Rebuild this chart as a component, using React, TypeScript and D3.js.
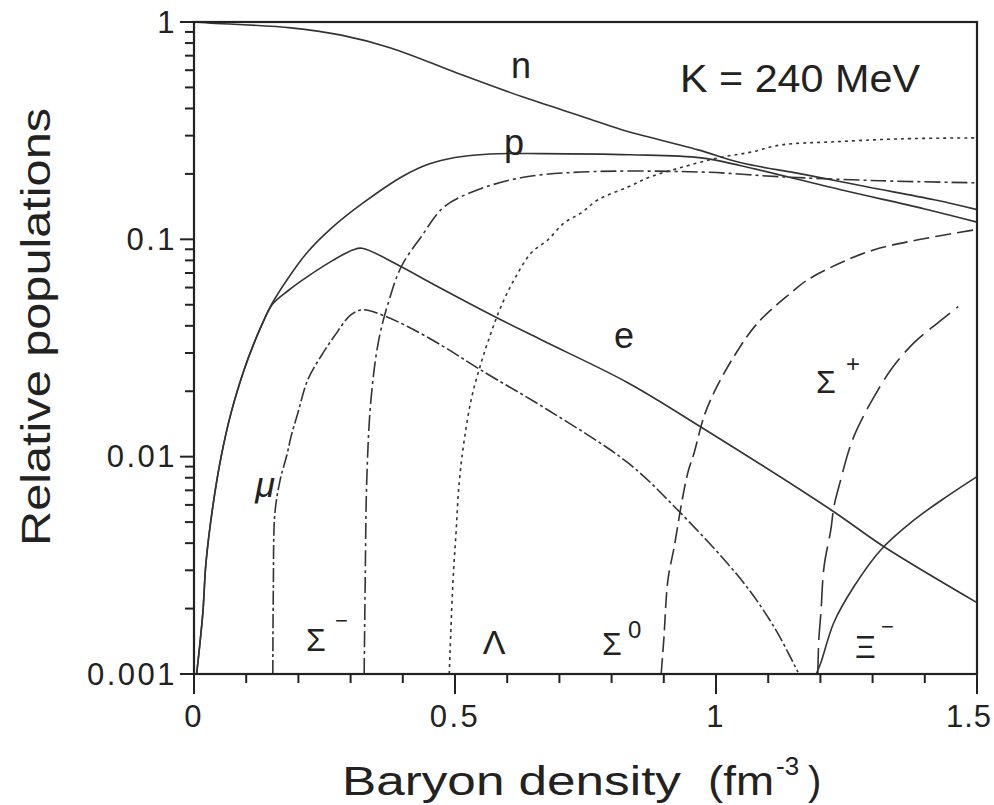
import React from "react";
import * as d3 from "d3";

// tick labels
const xTickValues = [0, 0.5, 1, 1.5];
const xTickLabels = ["0", "0.5", "1", "1.5"];
const yTickValues = [1, 0.1, 0.01, 0.001];
const yTickLabels = ["1", "0.1", "0.01", "0.001"];

// [baryon density fm^-3, relative population]
const neutron: [number, number][] = [
  [0, 1], [0.027, 0.99], [0.186, 0.94], [0.282, 0.87], [0.377, 0.76],
  [0.506, 0.58], [0.632, 0.45], [0.755, 0.36], [0.818, 0.32], [0.966, 0.258],
  [1.048, 0.225], [1.163, 0.2], [1.291, 0.174], [1.418, 0.152], [1.5, 0.137],
];

// protons and electrons coincide until the muons show up
const protonElectronLow: [number, number][] = [
  [0.005, 0.001], [0.0096, 0.00126], [0.017, 0.00192], [0.023, 0.00326],
  [0.036, 0.00589], [0.052, 0.01], [0.071, 0.0159], [0.096, 0.0251],
  [0.115, 0.0333], [0.134, 0.0425],
];

const protonHigh: [number, number][] = [
  [0.148, 0.0499], [0.178, 0.065], [0.216, 0.0865], [0.266, 0.114],
  [0.324, 0.147], [0.4, 0.195], [0.45, 0.222], [0.5, 0.238], [0.567, 0.247],
  [0.665, 0.248], [0.837, 0.245], [0.971, 0.237], [1.048, 0.218],
  [1.239, 0.169], [1.4, 0.138], [1.5, 0.12],
];

const electronHigh: [number, number][] = [
  [0.151, 0.0505], [0.18, 0.058], [0.216, 0.067], [0.266, 0.08],
  [0.304, 0.0893], [0.322, 0.091], [0.397, 0.0748], [0.454, 0.063],
  [0.569, 0.045], [0.665, 0.0345], [0.831, 0.0219], [0.971, 0.0137],
  [1.22, 0.0057], [1.322, 0.00385], [1.5, 0.00213],
];

const muon: [number, number][] = [
  [0.151, 0.001], [0.152, 0.0025], [0.155, 0.0055], [0.165, 0.0078],
  [0.178, 0.0102], [0.186, 0.0124], [0.199, 0.0159], [0.218, 0.0226],
  [0.243, 0.0289], [0.268, 0.0356], [0.301, 0.045], [0.324, 0.0474],
  [0.364, 0.0445], [0.41, 0.0396], [0.479, 0.032], [0.55, 0.025],
  [0.678, 0.0164], [0.831, 0.00938], [0.92, 0.0059], [1.048, 0.00272],
  [1.111, 0.00165], [1.157, 0.00102],
];

const sigmaMinus: [number, number][] = [
  [0.326, 0.001], [0.328, 0.00272], [0.331, 0.00784], [0.339, 0.0183],
  [0.354, 0.0345], [0.374, 0.0527], [0.397, 0.0748], [0.435, 0.1026],
  [0.479, 0.141], [0.544, 0.169], [0.626, 0.192], [0.741, 0.204],
  [0.971, 0.204], [1.125, 0.194], [1.316, 0.186], [1.5, 0.182],
];

const lambda: [number, number][] = [
  [0.489, 0.001], [0.496, 0.00264], [0.502, 0.00448], [0.508, 0.0076],
  [0.517, 0.0116], [0.531, 0.0183], [0.55, 0.027], [0.569, 0.0371],
  [0.588, 0.049], [0.613, 0.065], [0.646, 0.0867], [0.678, 0.0995],
  [0.709, 0.119], [0.741, 0.132], [0.774, 0.152], [0.831, 0.174],
  [0.875, 0.194], [0.939, 0.216], [1.004, 0.237], [1.067, 0.252],
  [1.125, 0.272], [1.226, 0.281], [1.354, 0.29], [1.5, 0.293],
];

const sigmaZero: [number, number][] = [
  [0.895, 0.001], [0.9, 0.00144], [0.908, 0.00272], [0.92, 0.00385],
  [0.933, 0.0059], [0.946, 0.00844], [0.958, 0.0104], [0.977, 0.0153],
  [0.996, 0.0197], [1.034, 0.0288], [1.08, 0.0413], [1.144, 0.0568],
  [1.176, 0.0652], [1.239, 0.078], [1.303, 0.0895], [1.387, 0.0995],
  [1.5, 0.111],
];

const sigmaPlus: [number, number][] = [
  [1.195, 0.001], [1.197, 0.00144], [1.201, 0.00192], [1.207, 0.00312],
  [1.22, 0.00462], [1.226, 0.0059], [1.239, 0.00784], [1.253, 0.0104],
  [1.266, 0.0127], [1.282, 0.0153], [1.303, 0.0189], [1.335, 0.0251],
  [1.379, 0.0334], [1.425, 0.0413], [1.464, 0.049],
];

const xiMinus: [number, number][] = [
  [1.192, 0.001], [1.201, 0.00113], [1.226, 0.00173], [1.264, 0.00252],
  [1.316, 0.00373], [1.379, 0.0051], [1.444, 0.0066], [1.5, 0.0081],
];

const W = 994;
const H = 805;
const margin = { left: 194, right: 17, top: 22, bottom: 131 };
const font = "'Liberation Sans', Arial, Helvetica, sans-serif";
const ink = "#222";

const App = () => {
  const x = d3
    .scaleLinear()
    .domain([0, 1.5])
    .range([margin.left, W - margin.right]);
  const y = d3
    .scaleLog()
    .domain([0.001, 1])
    .range([H - margin.bottom, margin.top]);

  const line = d3
    .line<[number, number]>()
    .x((d) => x(d[0]))
    .y((d) => y(d[1]))
    .curve(d3.curveCatmullRom.alpha(0.5));

  const series = [
    { key: "n", data: neutron, dash: "none" },
    { key: "p", data: [...protonElectronLow, ...protonHigh], dash: "none" },
    { key: "e", data: [...protonElectronLow, ...electronHigh], dash: "none" },
    { key: "mu", data: muon, dash: "14,3,3,3" },
    { key: "sigma-", data: sigmaMinus, dash: "16,4,3,4" },
    { key: "lambda", data: lambda, dash: "3,4" },
    { key: "sigma0", data: sigmaZero, dash: "16,6" },
    { key: "sigma+", data: sigmaPlus, dash: "26,8" },
    { key: "xi-", data: xiMinus, dash: "none" },
  ];

  const x0 = x(0);
  const x1 = x(1.5);
  const y0 = y(0.001);
  const y1 = y(1);

  const xMinor = d3.range(0, 1.5001, 0.1);
  const yMinor: number[] = [];
  [0.001, 0.01, 0.1].forEach((dec) => {
    for (let k = 2; k <= 9; k++) yMinor.push(dec * k);
  });

  const labelStyle = { fontFamily: font, fill: ink };

  return (
    <svg
      width={W}
      height={H}
      style={{ position: "absolute", left: 0, top: 0, background: "#fff" }}
    >
      {/* curves */}
      <g fill="none" stroke="#333" strokeWidth={1.6}>
        {series.map((s) => (
          <path
            key={s.key}
            d={line(s.data) || ""}
            strokeDasharray={s.dash === "none" ? undefined : s.dash}
          />
        ))}
      </g>

      {/* frame */}
      <rect
        x={x0}
        y={y1}
        width={x1 - x0}
        height={y0 - y1}
        fill="none"
        stroke={ink}
        strokeWidth={2.2}
      />

      {/* ticks */}
      <g stroke={ink} strokeWidth={2}>
        {yTickValues.map((v) => (
          <line key={"ym" + v} x1={x0 - 14} x2={x0} y1={y(v)} y2={y(v)} />
        ))}
        {yMinor.map((v) => (
          <line key={"yn" + v} x1={x0 - 9} x2={x0} y1={y(v)} y2={y(v)} />
        ))}
        {xMinor.map((v) => (
          <line key={"xn" + v} x1={x(v)} x2={x(v)} y1={y0} y2={y0 + 9} />
        ))}
        {xTickValues.map((v) => (
          <line key={"xm" + v} x1={x(v)} x2={x(v)} y1={y0} y2={y0 + 20} />
        ))}
      </g>

      {/* tick labels */}
      <g style={labelStyle} fontSize={31} letterSpacing={2.5}>
        {yTickValues.map((v, i) => (
          <text
            key={"yl" + v}
            x={x0 - 17}
            y={y(v)}
            textAnchor="end"
            dominantBaseline="central"
          >
            {yTickLabels[i]}
          </text>
        ))}
        {xTickValues.map((v, i) =>
          i === xTickValues.length - 1 ? (
            <text key={"xl" + v} x={W - 2} y={727} textAnchor="end" letterSpacing={1}>
              {xTickLabels[i]}
            </text>
          ) : (
            <text key={"xl" + v} x={x(v)} y={727} textAnchor="middle">
              {xTickLabels[i]}
            </text>
          )
        )}
      </g>

      {/* axis titles */}
      <text
        style={labelStyle}
        fontSize={40}
        x={342}
        y={795}
        textLength={339}
        lengthAdjust="spacingAndGlyphs"
      >
        Baryon density
      </text>
      <text
        style={labelStyle}
        fontSize={40}
        x={708}
        y={795}
        textLength={66}
        lengthAdjust="spacingAndGlyphs"
      >
        (fm
      </text>
      <text style={labelStyle} fontSize={26} x={776} y={775}>
        -3
      </text>
      <text style={labelStyle} fontSize={40} x={808} y={795}>
        )
      </text>
      <text
        style={labelStyle}
        fontSize={40}
        transform="translate(50,327) rotate(-90)"
        textAnchor="middle"
        textLength={438}
        lengthAdjust="spacingAndGlyphs"
      >
        Relative populations
      </text>

      {/* annotation */}
      <text
        style={labelStyle}
        fontSize={38}
        x={680}
        y={92}
        textLength={240}
        lengthAdjust="spacingAndGlyphs"
      >
        K = 240 MeV
      </text>

      {/* curve labels */}
      <g style={labelStyle} fontSize={36}>
        <text x={521} y={78} textAnchor="middle">n</text>
        <text x={514} y={155} textAnchor="middle">p</text>
        <text x={624} y={348} textAnchor="middle">e</text>
        <text x={265} y={497} textAnchor="middle" fontStyle="italic">μ</text>
        <text x={306} y={651} fontSize={32}>Σ</text>
        <text x={335} y={628} fontSize={22}>−</text>
        <text x={494} y={654} fontSize={34} textAnchor="middle">Λ</text>
        <text x={602} y={655} fontSize={32}>Σ</text>
        <text x={628} y={638} fontSize={24}>0</text>
        <text x={816} y={393} fontSize={32}>Σ</text>
        <text x={846} y={372} fontSize={24}>+</text>
        <text x={855} y={658} fontSize={32}>Ξ</text>
        <text x={881} y={634} fontSize={22}>−</text>
      </g>
    </svg>
  );
};

export default App;
